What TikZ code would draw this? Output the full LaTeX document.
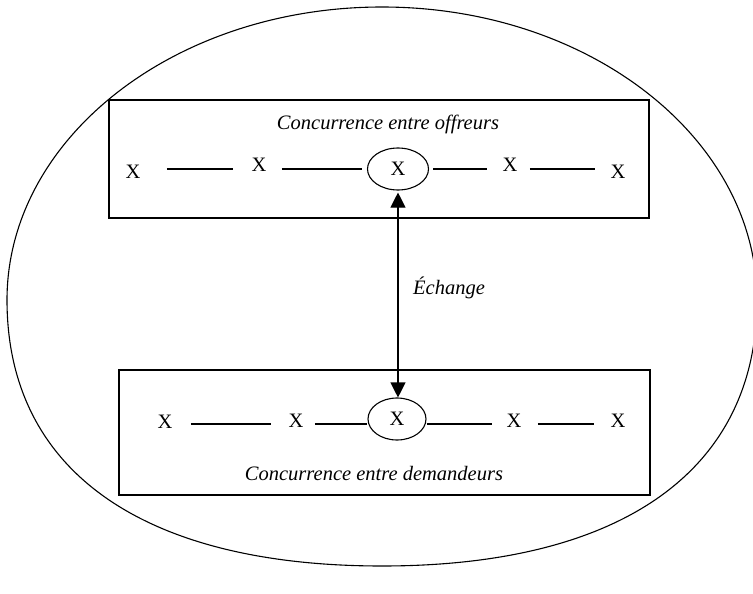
\documentclass[tikz,border=0pt]{standalone}
\usepackage{fontspec}
\setmainfont{Liberation Serif}
\usetikzlibrary{arrows.meta,shapes.geometric}
\begin{document}
\begin{tikzpicture}[x=1pt,y=-1pt,line width=1.1pt,
  every node/.style={font=\fontsize{20.5}{24}\selectfont},
  xnode/.style={inner sep=0pt},
  hub/.style={draw,ellipse,inner sep=0pt},
  frame/.style={draw,fill=white,line width=1.2pt},
  lbl/.style={font=\fontsize{20.5}{24}\selectfont\itshape,inner sep=0pt},
  tipboth/.style={{Triangle[length=15pt,width=15pt]}-{Triangle[length=15pt,width=15pt]}}]
\useasboundingbox (0,0) rectangle (753,594);
\clip (0,0) rectangle (753,594);
% outer egg-shaped ellipse
\coordinate (eT) at (382,7);
\coordinate (eL) at (7,300);
\coordinate (eB) at (382,566);
\coordinate (eR) at (757,300);
\draw (eL) .. controls (7,138.2) and (174.9,7) .. (eT)
           .. controls (589.1,7) and (757,138.2) .. (eR)
           .. controls (757,470.2) and (622,566) .. (eB)
           .. controls (142,566) and (7,470.2) .. (eL) -- cycle;
% boxes
\draw[frame] (109,100) rectangle (649,218);
\draw[frame] (119,370) rectangle (650,495);
% labels
\node[lbl] (ltop) at (388,124) {Concurrence entre offreurs};
\node[lbl] (lbot) at (374,474) {Concurrence entre demandeurs};
\node[lbl] (lex) at (449,288) {Échange};
% top row
\node[xnode] (t1) at (133,172) {X};
\node[xnode] (t2) at (259,165) {X};
\node[hub,minimum width=61pt,minimum height=42pt] (t3) at (398,169) {X};
\node[xnode] (t4) at (510,165) {X};
\node[xnode] (t5) at (618,172) {X};
\draw ([xshift=26pt]t1.east |- t3.center) -- ([xshift=-18pt]t2.west |- t3.center);
\draw ([xshift=15pt]t2.east |- t3.center) -- ([xshift=-5pt]t3.west);
\draw ([xshift=4pt]t3.east) -- ([xshift=-15pt]t4.west |- t3.center);
\draw ([xshift=12pt]t4.east |- t3.center) -- ([xshift=-15pt]t5.west |- t3.center);
% bottom row
\node[xnode] (b1) at (165,422) {X};
\node[xnode] (b2) at (296,421) {X};
\node[hub,minimum width=58pt,minimum height=42pt] (b3) at (397,419) {X};
\node[xnode] (b4) at (514,421) {X};
\node[xnode] (b5) at (618,421) {X};
\coordinate (bl) at (0,424);
\draw ([xshift=18pt]b1.east |- bl) -- ([xshift=-17pt]b2.west |- bl);
\draw ([xshift=11pt]b2.east |- bl) -- (b3.west |- bl);
\draw (b3.east |- bl) -- ([xshift=-14pt]b4.west |- bl);
\draw ([xshift=16pt]b4.east |- bl) -- ([xshift=-16pt]b5.west |- bl);
% exchange arrow
\draw[tipboth,shorten <=2pt] (t3.south) -- (t3.south |- b3.north);
\end{tikzpicture}
\end{document}
